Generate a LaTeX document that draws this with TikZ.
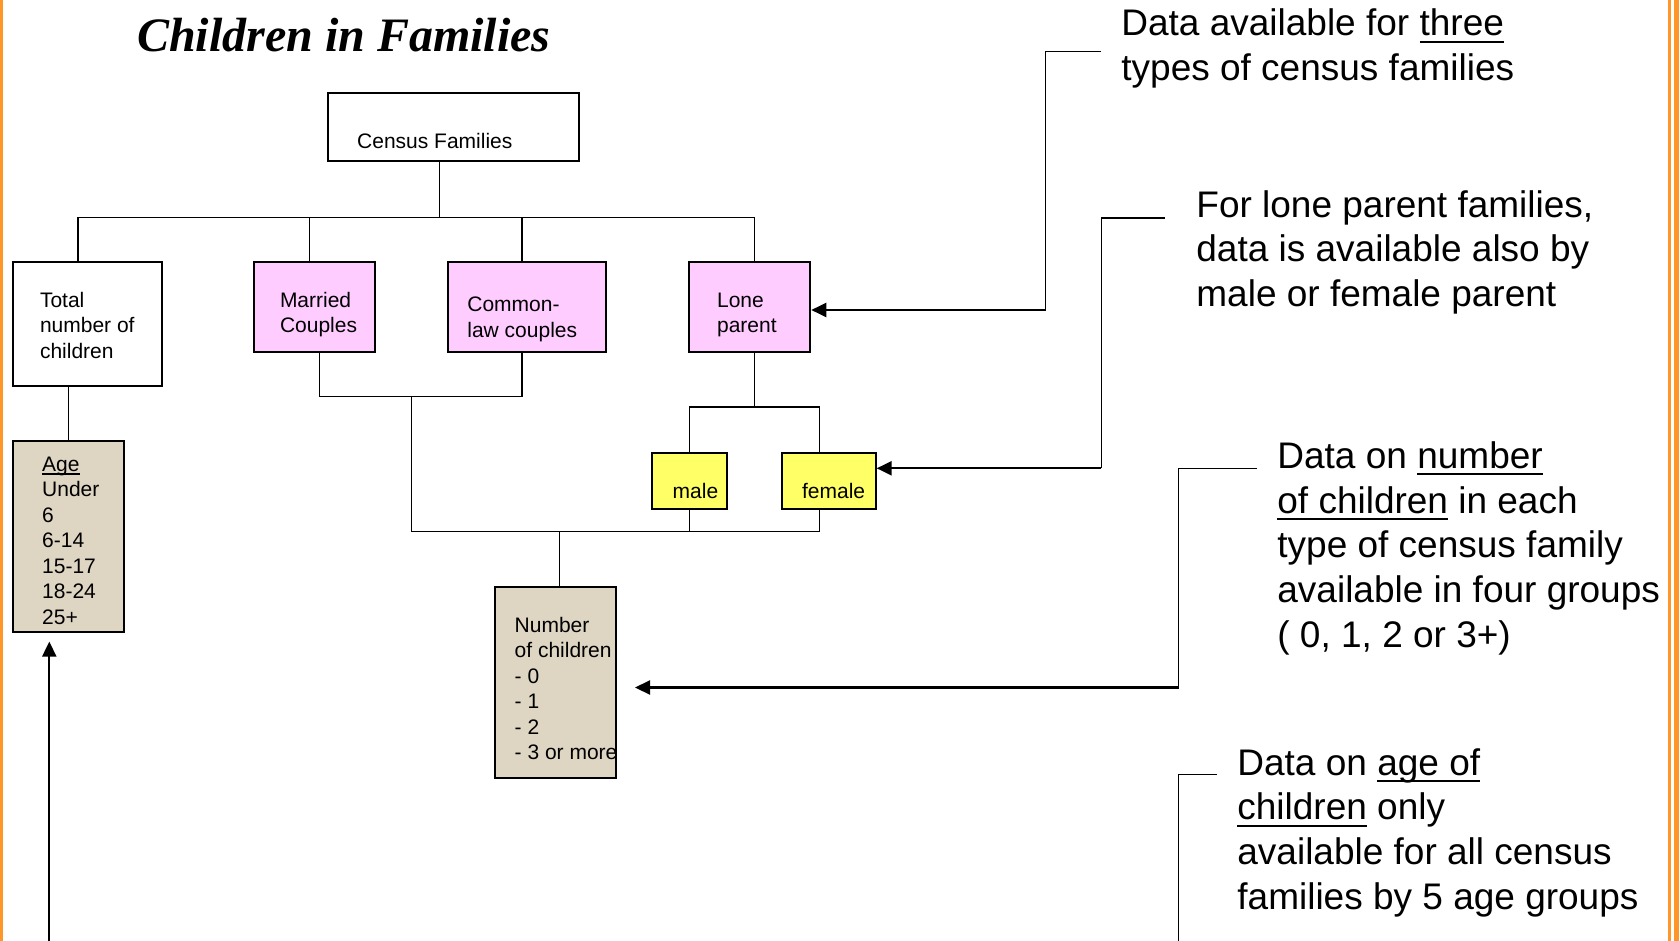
\documentclass[tikz,border=0pt]{standalone}
\usepackage{fontspec}
\setmainfont{Liberation Sans}
\newfontfamily\titlefont{Liberation Serif}
\usetikzlibrary{arrows.meta,fit}

\definecolor{pinkfill}{RGB}{255,204,255}
\definecolor{yellowfill}{RGB}{255,255,102}
\definecolor{tanfill}{RGB}{222,214,195}
\definecolor{frameorange}{RGB}{255,150,40}

% underline: #1 depth, #2 thickness, #3 text
\newcommand{\undl}[3]{\setbox0\hbox{#3}\rlap{\rule[-#1]{\wd0}{#2}}\box0\relax}

\tikzset{
  box/.style={draw, line width=1pt, inner sep=0pt},
  pinkbox/.style={box, fill=pinkfill},
  yellowbox/.style={box, fill=yellowfill},
  tanbox/.style={box, fill=tanfill},
  % texts are placed at the baseline of their last line
  boxtext/.style={anchor=base west, inner sep=0pt, align=left, font=\fontsize{10.5}{12.75}\selectfont},
  notetext/.style={anchor=base west, inner sep=0pt, align=left, font=\fontsize{18.5}{22.35}\selectfont},
  link/.style={line width=0.75pt},
  pointer/.style={line width=1.1pt, -{Triangle[length=7.5pt,width=7pt]}},
}

\begin{document}
\begin{tikzpicture}[x=0.5pt, y=-0.5pt]
    \useasboundingbox (0,0) rectangle (1680,941);

    % Frame
    \draw[frameorange, line width=1.35pt] (1.3,0) -- (1.3,941);
    \draw[frameorange, line width=1.5pt] (1669.2,0) -- (1669.2,941);
    \draw[frameorange, line width=2.6pt] (1676.3,0) -- (1676.3,941);

    % Title
    \node[anchor=base west, inner sep=0pt, font=\titlefont\bfseries\itshape\fontsize{24}{28}\selectfont] (title) at (136.7,51.7) {Children in Families};

    % Boxes
    \node[box, fit={(328,93) (578.6,161)}] (census) {};
    \node[box, fit={(12.9,262) (161.8,386)}] (total) {};
    \node[pinkbox, fit={(254,262) (374.5,352)}] (married) {};
    \node[pinkbox, fit={(447.8,262) (606.4,352)}] (common) {};
    \node[pinkbox, fit={(689.3,262) (810.3,352)}] (lone) {};
    \node[yellowbox, fit={(652.3,453.3) (726.7,509.3)}] (male) {};
    \node[yellowbox, fit={(781.7,453.3) (875.7,509.3)}] (female) {};
    \node[tanbox, fit={(12.9,441.4) (124.3,632)}] (age) {};
    \node[tanbox, fit={(495,587) (616,778)}] (number) {};

    % Box texts
    \node[boxtext] (census-t) at (356.8,149) {Census Families};
    \node[boxtext] (total-t) at (39.6,358) {Total\\number of\\children};
    \node[boxtext] (married-t) at (279.6,332.5) {Married\\Couples};
    \node[boxtext] (common-t) at (467,337.3) {Common-\\law couples};
    \node[boxtext] (lone-t) at (716.7,332.8) {Lone\\parent};
    \node[boxtext] (male-t) at (672.3,498.3) {male};
    \node[boxtext] (female-t) at (801.7,498.3) {female};
    \node[boxtext] (age-t) at (41.8,624.4) {\undl{1.6pt}{0.6pt}{Age}\\Under\\6\\6-14\\15-17\\18-24\\25+};
    \node[boxtext] (number-t) at (514.3,759.5) {Number\\of children\\- 0\\- 1\\- 2\\- 3 or more};

    % Notes
    \node[notetext] (note-types) at (1121,80.7) {Data available for \undl{3.4pt}{1pt}{three}\\types of census families};
    \node[notetext] (note-lone) at (1196,306.4) {For lone parent families,\\data is available also by\\male or female parent};
    \node[notetext] (note-number) at (1277,647.1) {Data on \undl{3.4pt}{1pt}{number}\\\undl{3.4pt}{1pt}{of children} in each\\type of census family\\available in four groups\\( 0, 1, 2 or 3+)};
    \node[notetext] (note-age) at (1237,909.1) {Data on \undl{3.4pt}{1pt}{age of}\\\undl{3.4pt}{1pt}{children} only\\available for all census\\families by 5 age groups};

    % Tree
    \coordinate (bus-c) at (439.3,217.5);
    \coordinate (bus-l) at (78.2,217.5);
    \coordinate (bus-m) at (309.6,217.5);
    \coordinate (bus-cl) at (521.8,217.5);
    \coordinate (bus-r) at (754.3,217.5);
    \draw[link] (census.south -| bus-c) -- (bus-c);
    \draw[link] (total.north -| bus-l) |- (bus-r) -- (lone.north -| bus-r);
    \draw[link] (bus-m) -- (married.north -| bus-m);
    \draw[link] (bus-cl) -- (common.north -| bus-cl);
    \draw[link] (total.south -| age.north) -- (age.north);

    \coordinate (cpl-l) at (319.3,396.4);
    \coordinate (cpl-j) at (411.4,396.4);
    \draw[link] (married.south -| cpl-l) -- (cpl-l) -| (common.south -| bus-cl);

    \coordinate (lone-j) at (754.3,407);
    \coordinate (female-j) at (819.3,407);
    \draw[link] (lone.south -| lone-j) -- (lone-j);
    \draw[link] (male.north) |- (female-j) -- (female.north -| female-j);

    \coordinate (low-l) at (411.4,531.4);
    \coordinate (low-r) at (819.3,531.4);
    \coordinate (low-n) at (559.3,531.4);
    \draw[link] (cpl-j) -- (low-l) -- (low-r) -- (female.south -| low-r);
    \draw[link] (male.south) -- (male.south |- low-l);
    \draw[link] (low-n) -- (number.north -| low-n);

    % Pointers from the notes
    \coordinate (ptr-types) at (1101,51.7);
    \coordinate (ptr-lone) at (1045.5,310);
    \draw[link] (ptr-types) -| (ptr-lone);
    \draw[pointer] (ptr-lone) -- (lone.east |- ptr-lone);

    \coordinate (ptr-sex) at (1164.7,218);
    \coordinate (ptr-sex-b) at (1101.4,468.3);
    \draw[link] (ptr-sex) -| (ptr-sex-b);
    \draw[pointer] (ptr-sex-b) -- (female.east |- ptr-sex-b);

    \coordinate (ptr-num) at (1256.7,468.3);
    \coordinate (ptr-num-b) at (1178.5,687.5);
    \draw[link] (ptr-num) -| (ptr-num-b);
    \draw[pointer, shorten >=9pt] (ptr-num-b) -- (number.east |- ptr-num-b);

    \coordinate (ptr-age) at (1217,774.6);
    \coordinate (ptr-age-b) at (1178.5,941);
    \draw[link] (ptr-age) -| (ptr-age-b);

    \coordinate (age-src) at (49.3,941);
    \draw[pointer, shorten >=4.3pt] (age-src) -- (age.south -| age-src);

\end{tikzpicture}
\end{document}
